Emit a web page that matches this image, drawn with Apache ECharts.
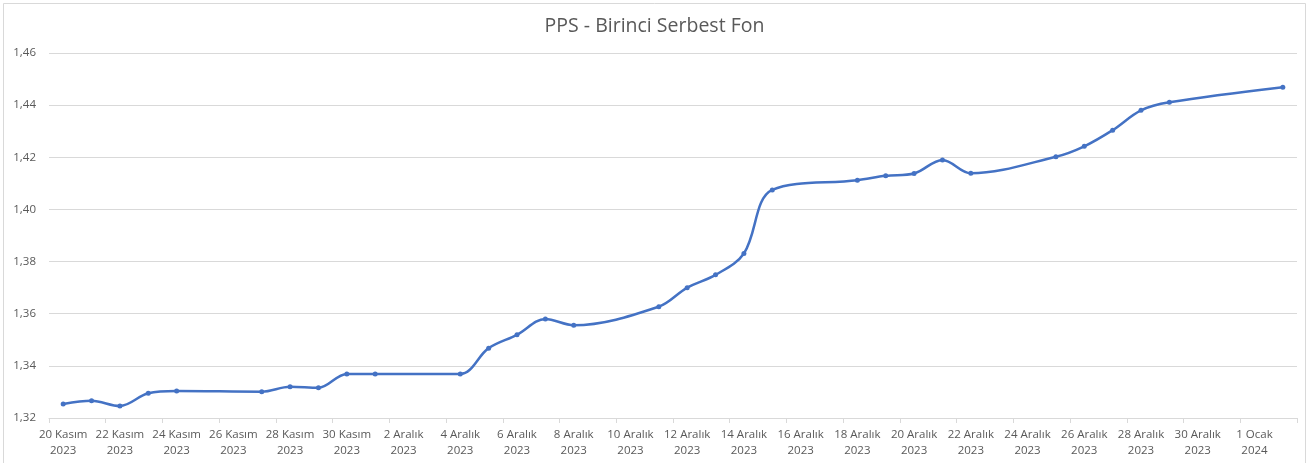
<!DOCTYPE html>
<html>
<head>
<meta charset="utf-8">
<script src="https://cdn.jsdelivr.net/npm/echarts@6/dist/echarts.min.js"></script>
<style>html,body{margin:0;padding:0;background:#fff}#c{width:1309px;height:463px}</style>
</head>
<body>
<div id="c"></div>
<script>
const title = 'PPS - Birinci Serbest Fon';
const monthNames = ['Ocak','Şubat','Mart','Nisan','Mayıs','Haziran','Temmuz','Ağustos','Eylül','Ekim','Kasım','Aralık'];
const axisStart = '2023-11-20';
const axisEnd = '2024-01-02';
const dates = ['2023-11-20','2023-11-21','2023-11-22','2023-11-23','2023-11-24','2023-11-27','2023-11-28','2023-11-29','2023-11-30','2023-12-01','2023-12-04','2023-12-05','2023-12-06','2023-12-07','2023-12-08','2023-12-11','2023-12-12','2023-12-13','2023-12-14','2023-12-15','2023-12-18','2023-12-19','2023-12-20','2023-12-21','2023-12-22','2023-12-25','2023-12-26','2023-12-27','2023-12-28','2023-12-29','2024-01-02'];
const values = [1.3254,1.3266,1.3246,1.3295,1.3304,1.3301,1.3320,1.3316,1.3369,1.3369,1.3369,1.3468,1.3519,1.3580,1.3556,1.3627,1.3700,1.3749,1.3831,1.4075,1.4112,1.4129,1.4138,1.4190,1.4139,1.4202,1.4242,1.4304,1.4380,1.4411,1.4469];
const yMin = 1.32, yMax = 1.46, yStep = 0.02;

// calendar days of the axis
const days = [];
{
  let d = new Date(axisStart + 'T00:00:00Z');
  const end = new Date(axisEnd + 'T00:00:00Z');
  while (d <= end) { days.push(d.toISOString().slice(0,10)); d = new Date(d.getTime() + 86400000); }
}
const seriesData = dates.map((d,i) => [d, values[i]]);
const fmtDay = s => { const p = s.split('-'); return parseInt(p[2],10) + ' ' + monthNames[parseInt(p[1],10)-1] + '\n' + p[0]; };

const chart = echarts.init(document.getElementById('c'), null, {renderer:'canvas'});
const font = '"Open Sans", "Noto Sans", sans-serif';
chart.setOption({
  animation: false,
  backgroundColor: '#fff',
  title: {text: title, left: 'center', top: 11, textStyle:{fontFamily: font, fontSize: 19.5, fontWeight: 'normal', color: '#595959'}},
  graphic: [{type:'rect', shape:{x:3.5,y:3.5,width:1302,height:470}, style:{fill:'none', stroke:'#d9d9d9', lineWidth:1}, silent:true}],
  grid: {left: 49, right: 12, top: 53, bottom: 45},
  xAxis: {
    type: 'category', data: days, boundaryGap: true,
    axisLine: {lineStyle:{color:'#d9d9d9'}},
    axisTick: {show:true, interval: 1, length: 5, lineStyle:{color:'#d9d9d9'}},
    axisLabel: {interval: 1, formatter: fmtDay, color:'#595959', fontFamily: font, fontSize: 11.5, lineHeight: 16, margin: 9},
    splitLine: {show:false}
  },
  yAxis: {
    type: 'value', min: yMin, max: yMax, interval: yStep,
    axisLine: {show:false}, axisTick:{show:false},
    axisLabel: {formatter: v => v.toFixed(2).replace('.', ','), color:'#595959', fontFamily: font, fontSize: 11.5, margin: 13},
    splitLine: {lineStyle:{color:'#d9d9d9', width:1}}
  },
  series: [{
    type: 'line', data: seriesData, smooth: 0.35,
    symbol: 'circle', symbolSize: 5,
    lineStyle: {color:'#4472C4', width: 2.5},
    itemStyle: {color:'#4472C4'}
  }]
});
</script>
</body>
</html>
